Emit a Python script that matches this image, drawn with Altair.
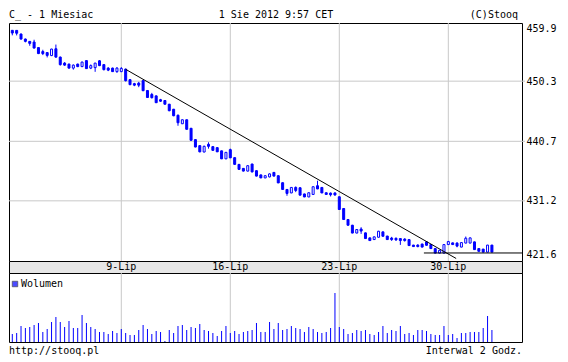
import altair as alt
import pandas as pd

# ---- data (2-hour candles, 2 Jul - 1 Aug 2012) ----
OPEN = [458.41, 458.40, 457.82, 457.02, 456.65, 456.54, 455.66, 455.02, 454.86, 454.38,
        455.47, 454.14, 453.18, 453.02, 452.38, 453.02, 452.62, 453.58, 452.38, 452.46,
        453.55, 452.94, 452.38, 452.38, 451.82, 451.82, 452.22, 450.54, 449.90, 449.98,
        450.38, 448.81, 448.17, 447.95, 447.34, 447.21, 446.62, 445.82, 444.86, 443.50,
        444.14, 442.78, 440.97, 440.01, 438.99, 440.22, 439.85, 439.69, 439.18, 437.90,
        439.37, 438.09, 437.02, 436.38, 435.95, 437.07, 436.01, 435.34, 434.86, 435.02,
        435.74, 435.21, 434.09, 433.02, 432.46, 433.34, 433.29, 432.30, 431.82, 432.22,
        433.61, 433.34, 432.49, 432.43, 432.46, 431.85, 429.98, 428.22, 427.31, 426.06,
        426.70, 426.09, 425.29, 425.02, 425.39, 426.25, 425.58, 425.26, 425.23, 425.18,
        425.10, 425.02, 424.14, 424.14, 424.30, 424.65, 424.22, 423.58, 422.86, 422.86,
        424.22, 424.49, 424.46, 423.82, 424.46, 424.46, 424.65, 423.58, 423.50, 423.02,
        424.14]
HIGH = [458.41, 458.45, 457.90, 457.10, 456.70, 456.91, 455.69, 455.31, 454.94, 455.47,
        456.14, 454.22, 453.34, 453.10, 452.97, 453.10, 453.42, 453.61, 452.97, 453.23,
        453.66, 452.97, 452.54, 452.46, 452.54, 452.54, 452.30, 450.62, 450.03, 450.19,
        450.46, 448.86, 448.43, 448.01, 447.47, 447.26, 446.67, 445.87, 444.97, 444.17,
        444.17, 442.83, 441.02, 440.06, 440.01, 440.54, 439.90, 439.74, 439.21, 438.99,
        439.53, 438.14, 437.07, 436.43, 436.86, 437.13, 436.06, 435.37, 435.26, 435.58,
        435.79, 435.26, 434.14, 433.07, 433.39, 433.50, 433.34, 432.33, 432.54, 433.50,
        434.41, 433.39, 432.54, 432.54, 432.54, 431.90, 430.03, 428.27, 427.37, 426.67,
        426.99, 426.14, 425.34, 425.50, 426.41, 426.30, 425.61, 425.45, 425.34, 425.18,
        425.23, 425.07, 424.17, 424.27, 424.38, 424.70, 424.27, 423.63, 423.37, 424.27,
        424.81, 424.54, 424.59, 424.59, 425.50, 425.34, 424.70, 423.63, 423.53, 424.17,
        424.17]
LOW = [457.61, 457.60, 456.94, 456.49, 455.95, 455.53, 454.62, 454.46, 454.09, 454.30,
       454.03, 452.78, 452.75, 452.33, 452.14, 452.54, 452.54, 452.27, 452.22, 451.79,
       452.70, 452.01, 451.90, 451.79, 451.63, 451.74, 450.25, 449.66, 449.50, 449.34,
       448.70, 447.63, 447.53, 446.83, 446.99, 446.57, 445.50, 444.70, 443.18, 443.47,
       442.57, 440.81, 439.74, 438.94, 438.94, 439.53, 439.21, 438.99, 437.87, 437.87,
       438.03, 436.97, 436.17, 435.90, 435.90, 435.74, 435.10, 434.83, 434.83, 434.94,
       435.10, 434.03, 432.97, 432.01, 432.43, 432.59, 432.06, 431.79, 431.79, 432.17,
       433.07, 432.43, 432.17, 431.90, 432.01, 429.77, 428.17, 427.26, 426.03, 426.03,
       425.93, 425.13, 424.81, 424.97, 425.34, 425.50, 424.97, 424.81, 424.81, 424.17,
       424.70, 424.01, 423.85, 423.79, 423.79, 424.06, 423.53, 422.83, 422.83, 422.83,
       424.17, 424.17, 423.79, 423.79, 424.43, 424.43, 423.37, 423.10, 422.99, 422.99,
       422.99]
CLOSE = [457.98, 457.95, 457.02, 456.65, 456.33, 455.58, 454.70, 454.70, 454.41, 455.42,
         454.14, 452.94, 452.86, 452.38, 452.86, 452.62, 453.34, 452.30, 452.78, 453.18,
         452.78, 452.14, 452.06, 451.82, 452.38, 452.33, 450.38, 449.74, 449.66, 449.66,
         448.78, 447.69, 447.66, 446.86, 447.10, 446.62, 445.58, 444.78, 443.66, 444.14,
         442.62, 440.86, 439.79, 439.02, 439.90, 439.90, 439.26, 439.02, 437.90, 438.94,
         438.06, 437.02, 436.22, 435.95, 436.81, 435.82, 435.15, 434.86, 435.21, 435.50,
         435.15, 434.06, 433.02, 432.38, 433.34, 432.86, 432.11, 431.82, 432.49, 433.45,
         433.10, 432.46, 432.22, 432.17, 432.14, 429.82, 428.22, 427.31, 426.06, 426.62,
         426.38, 425.18, 424.86, 425.45, 426.35, 425.55, 425.02, 425.02, 424.97, 424.86,
         424.86, 424.06, 423.90, 423.90, 423.82, 424.11, 423.58, 422.86, 423.31, 424.22,
         424.70, 424.22, 423.98, 424.54, 425.23, 425.29, 423.42, 423.15, 423.02, 424.14,
         423.02]
VOLUME = [8, 9, 16, 14, 15, 17, 19, 10, 13, 20,
          25, 20, 15, 21, 14, 14, 27, 19, 15, 13,
          10, 10, 8, 11, 9, 13, 9, 7, 7, 12,
          17, 13, 8, 11, 10, 1, 12, 9, 16, 17,
          12, 15, 14, 18, 12, 11, 9, 6, 11, 16,
          9, 11, 8, 10, 11, 12, 19, 10, 10, 20,
          13, 19, 12, 13, 16, 14, 13, 10, 15, 13,
          10, 9, 10, 14, 49, 15, 13, 8, 9, 12,
          11, 12, 8, 7, 10, 16, 9, 12, 11, 16,
          8, 9, 7, 12, 12, 11, 8, 7, 7, 16,
          7, 8, 4, 9, 9, 10, 10, 10, 14, 26,
          12]

DAY_START = [25, 50, 75, 100]            # first bar of each Monday
DAY_LABELS = ["9-Lip", "16-Lip", "23-Lip", "30-Lip"]
Y_TICKS = [421.6, 431.2, 440.7, 450.3, 459.9]
Y_GRID = [431.2, 440.7, 450.3]
TREND_X = [26, 101.8]
TREND_Y = [452.19, 422.0]
SUPPORT_FROM = 94.4
SUPPORT_LEVEL = 422.88
X_DOMAIN = [-0.757, 116.9]
Y_DOMAIN = [421.6, 459.9]
VOL_MAX = 69

TITLE_LEFT = "C_ - 1 Miesiac"
TITLE_MID = "1 Sie 2012 9:57 CET"
TITLE_RIGHT = "(C)Stooq"
FOOT_LEFT = "http://stooq.pl"
FOOT_RIGHT = "Interwal 2 Godz."
VOL_LEGEND = "Wolumen"

# ---- styling ----
FONT = "DejaVu Sans Mono"
FS = 10
BLUE = "#0000ff"
GRID = "#c8c8c8"
BAND = "#e6e6e6"
W = 513
H_MAIN = 238
H_BAND = 12
H_VOL = 69

df = pd.DataFrame({"i": list(range(len(OPEN))), "open": OPEN, "high": HIGH,
                   "low": LOW, "close": CLOSE, "vol": VOLUME})

xs = alt.Scale(domain=X_DOMAIN, nice=False, zero=False, padding=0)
ys = alt.Scale(domain=Y_DOMAIN, range=[H_MAIN, -2], nice=False, zero=False, padding=0)
X = lambda f: alt.X(f, scale=xs, axis=None, title=None)


def note(txt, x, y, align="left", baseline="top"):
    return alt.Chart(pd.DataFrame({"t": [txt]})).mark_text(
        font=FONT, fontSize=FS, align=align, baseline=baseline, color="black"
    ).encode(text="t:N", x=alt.value(x), y=alt.value(y))


yaxis = alt.Axis(values=Y_TICKS, format=".1f", orient="right", grid=False, ticks=False,
                 domain=False, labelFont=FONT, labelFontSize=FS, labelColor="black",
                 labelPadding=4, labelFlush=True, labelFlushOffset=-2, title=None)

vgrid = alt.Chart(pd.DataFrame({"d": DAY_START})).mark_rule(color=GRID).encode(x=X("d:Q"))
hgrid = alt.Chart(pd.DataFrame({"g": Y_GRID})).mark_rule(color=GRID).encode(
    y=alt.Y("g:Q", scale=ys, axis=yaxis, title=None), x=alt.value(0), x2=alt.value(W + 3))
wick = alt.Chart(df).mark_rule(color=BLUE, strokeWidth=1).encode(
    x=X("i:Q"), y=alt.Y("low:Q", scale=ys, axis=yaxis, title=None), y2="high:Q")
body = alt.Chart(df).mark_bar(width=2, stroke=BLUE, strokeWidth=1).encode(
    x=X("i:Q"), y=alt.Y("open:Q", scale=ys, axis=yaxis, title=None), y2="close:Q",
    fill=alt.condition("datum.close > datum.open", alt.value("white"), alt.value(BLUE)))
trend = alt.Chart(pd.DataFrame({"x": TREND_X, "y": TREND_Y})).mark_line(
    color="black", strokeWidth=1).encode(
    x=X("x:Q"), y=alt.Y("y:Q", scale=ys, axis=yaxis, title=None))
support = alt.Chart(pd.DataFrame({"x": [SUPPORT_FROM], "x2": [X_DOMAIN[1]],
                                  "y": [SUPPORT_LEVEL]})).mark_rule(color="black").encode(
    x=X("x:Q"), x2="x2:Q", y=alt.Y("y:Q", scale=ys, axis=yaxis, title=None))

main = alt.layer(
    vgrid, hgrid, wick, body, trend, support,
    note(TITLE_LEFT, 0, -13),
    note(TITLE_MID, 267, -13, align="center"),
    note(TITLE_RIGHT, 509, -13, align="right"),
).properties(width=W, height=H_MAIN)

band = alt.Chart(pd.DataFrame({"d": DAY_START, "lab": DAY_LABELS})).mark_text(
    font=FONT, fontSize=FS, baseline="middle", color="black"
).encode(x=X("d:Q"), text="lab:N", y=alt.value(6)).properties(
    width=W, height=H_BAND, view=alt.ViewBackground(fill=BAND, stroke="black"))

vgrid2 = alt.Chart(pd.DataFrame({"d": DAY_START})).mark_rule(color=GRID).encode(x=X("d:Q"))
vbars = alt.Chart(df).mark_bar(width=1, color=BLUE).encode(
    x=X("i:Q"),
    y=alt.Y("vol:Q", scale=alt.Scale(domain=[0, VOL_MAX], nice=False, padding=0), axis=None))
vsq = alt.Chart(pd.DataFrame({"t": [VOL_LEGEND]})).mark_square(
    size=30, color=BLUE, filled=True, stroke="black", strokeWidth=0.7
).encode(x=alt.value(6), y=alt.value(11))

vol = alt.layer(
    vgrid2, vbars, vsq,
    note(VOL_LEGEND, 12, 11, baseline="middle"),
    note(FOOT_LEFT, 0, H_VOL + 9, baseline="middle"),
    note(FOOT_RIGHT, W, H_VOL + 9, align="right", baseline="middle"),
).properties(width=W, height=H_VOL)

chart = alt.vconcat(main, band, vol, spacing=0, bounds="flush").properties(
    padding={"left": 0, "top": 1, "right": 0, "bottom": 0},
    background="white",
).configure_view(stroke="black", strokeWidth=1)

chart.save("out.html", embed_options={"renderer": "svg", "actions": False})
